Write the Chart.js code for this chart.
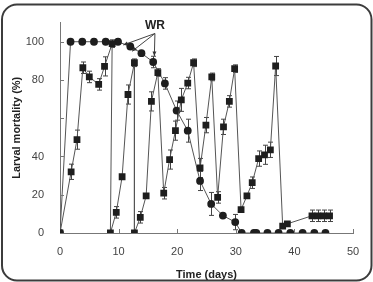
<!DOCTYPE html>
<html>
<head>
<meta charset="utf-8">
<script src="https://cdn.jsdelivr.net/npm/chart.js@4.4.0/dist/chart.umd.min.js"></script>
<style>
  html, body { margin: 0; padding: 0; background: #fff; }
  canvas { display: block; }
</style>
</head>
<body>
<canvas id="chart" width="373" height="282"></canvas>
<script>
// squares series (days, % mortality, +/- error)
const squareDay = [0, 1.9, 2.9, 3.9, 5.0, 6.6, 7.6, 8.9, 8.6, 9.6, 10.6, 11.6, 12.7, 12.7, 13.7, 14.7, 15.6, 16.7, 17.7, 18.7, 19.7, 20.7, 21.8, 22.8, 23.9, 24.9, 25.9, 26.9, 27.9, 28.9, 29.8, 30.9, 31.9, 32.8, 33.9, 34.9, 35.9, 36.8, 38.0, 38.8, 43, 44, 45, 46];
const squareMort = [0, 32, 48.8, 86.4, 81.6, 77.7, 87.1, 99, 0, 10.8, 29.4, 72.4, 89, 0, 8.2, 19.4, 68.8, 83.9, 20.8, 38.4, 53.5, 69.6, 78.4, 89, 34, 56.4, 81.6, 18.6, 55.5, 68.8, 85.9, 12.2, 19.4, 26.3, 38.9, 40.9, 43.5, 87.3, 3.6, 4.8, 9, 9, 9, 9];
const squareErr = [0, 4, 5, 3, 3, 3, 5, 2, 0, 3, 0, 5, 2, 0, 3, 0, 5, 2, 3, 5, 5, 6, 3, 2, 5, 4, 2, 3, 4, 3, 2, 0, 0, 3, 4, 5, 4, 5, 0, 0, 3, 3, 3, 3];

// circles series
const circleDay = [0, 1.8, 3.8, 5.8, 7.8, 9.9, 12, 13.9, 15.9, 17.9, 19.9, 21.8, 23.9, 25.8, 27.8, 29.9, 31, 33.1, 33.5, 35.4, 37.3, 39.3, 41.4, 43.4, 45.3];
const circleMort = [0, 100, 100, 100, 100, 100, 97.5, 94, 89.4, 78.2, 64, 53.5, 27.2, 15.2, 9.1, 5.7, 0, 0, 0, 0, 0, 0, 0, 0, 0];
const circleErr = [0, 0, 0, 0, 0, 0, 0, 0, 3, 3, 5, 6, 5, 6, 0, 4, 0, 0, 0, 0, 0, 0, 0, 0, 0];

const xTickValues = [0, 10, 20, 30, 40, 50];
const yTickLabels = [0, 20, 40, 80, 100];
const yTickMarks = [20, 40, 60, 80, 100];

// WR arrows: label position and arrow tips (data units)
const wrLabel = { x: 16.2, y: 108.6 };
const wrApex = { x: 16.2, y: 104.3 };
const wrTipsX = [10.8, 12.3, 16.1];
const wrTipsY = [98.3, 95, 92.5];

const FONT = "'Liberation Sans', Arial, sans-serif";

function toPoints(xs, ys) {
  return xs.map((x, i) => ({ x: x, y: ys[i] }));
}

const errs = [squareErr, circleErr];

const extras = {
  id: 'extras',
  beforeDraw(chart) {
    const ctx = chart.ctx;
    ctx.save();
    ctx.fillStyle = '#fff';
    ctx.fillRect(0, 0, chart.width, chart.height);
    ctx.beginPath();
    ctx.lineWidth = 2;
    ctx.strokeStyle = '#3c3c3c';
    ctx.roundRect(2, 4.5, 369.5, 276, 15);
    ctx.stroke();
    ctx.restore();
  },
  afterDraw(chart) {
    const { ctx, scales: { x, y } } = chart;
    ctx.save();
    // inward tick marks
    ctx.strokeStyle = '#777';
    ctx.lineWidth = 1;
    ctx.beginPath();
    yTickMarks.forEach(v => {
      const py = Math.round(y.getPixelForValue(v)) + 0.5;
      ctx.moveTo(x.left, py);
      ctx.lineTo(x.left + 4, py);
    });
    xTickValues.slice(1).forEach(v => {
      const px = Math.round(x.getPixelForValue(v)) + 0.5;
      ctx.moveTo(px, y.bottom);
      ctx.lineTo(px, y.bottom - 4);
    });
    ctx.stroke();
    ctx.restore();
  },
  beforeDatasetsDraw(chart) {
    const { ctx, scales: { x, y } } = chart;
    ctx.save();
    ctx.strokeStyle = '#444';
    ctx.lineWidth = 1;
    chart.data.datasets.forEach((ds, i) => {
      const e = errs[i];
      ds.data.forEach((p, j) => {
        if (!e[j]) return;
        const px = Math.round(x.getPixelForValue(p.x)) + 0.5;
        const top = y.getPixelForValue(p.y + e[j]);
        const bot = y.getPixelForValue(p.y - e[j]);
        ctx.beginPath();
        ctx.moveTo(px, top); ctx.lineTo(px, bot);
        ctx.moveTo(px - 2.5, top); ctx.lineTo(px + 2.5, top);
        ctx.moveTo(px - 2.5, bot); ctx.lineTo(px + 2.5, bot);
        ctx.stroke();
      });
    });
    ctx.restore();
  },
  afterDatasetsDraw(chart) {
    const { ctx, scales: { x, y } } = chart;
    ctx.save();
    const ax = x.getPixelForValue(wrApex.x);
    const ay = y.getPixelForValue(wrApex.y);
    ctx.strokeStyle = '#444';
    ctx.fillStyle = '#333';
    ctx.lineWidth = 1;
    wrTipsX.forEach((tx, i) => {
      const px = x.getPixelForValue(tx);
      const py = y.getPixelForValue(wrTipsY[i]);
      ctx.beginPath();
      ctx.moveTo(ax, ay);
      ctx.lineTo(px, py);
      ctx.stroke();
      // small arrowhead
      const ang = Math.atan2(py - ay, px - ax);
      ctx.beginPath();
      ctx.moveTo(px, py);
      ctx.lineTo(px - 5 * Math.cos(ang - 0.4), py - 5 * Math.sin(ang - 0.4));
      ctx.lineTo(px - 5 * Math.cos(ang + 0.4), py - 5 * Math.sin(ang + 0.4));
      ctx.closePath();
      ctx.fill();
    });
    ctx.font = 'bold 12px ' + FONT;
    ctx.fillStyle = '#222';
    ctx.textAlign = 'center';
    ctx.textBaseline = 'middle';
    ctx.fillText('WR', x.getPixelForValue(wrLabel.x), y.getPixelForValue(wrLabel.y));
    ctx.restore();
  }
};

const config = {
  type: 'scatter',
  data: {
    datasets: [{
      label: 'squares',
      data: toPoints(squareDay, squareMort),
      showLine: true,
      borderColor: '#555',
      borderWidth: 1,
      pointStyle: 'rect',
      pointRadius: 4.8,
      pointBackgroundColor: '#1e1e1e',
      pointBorderColor: '#1e1e1e',
      pointBorderWidth: 0,
      tension: 0
    }, {
      label: 'circles',
      data: toPoints(circleDay, circleMort),
      showLine: true,
      borderColor: '#555',
      borderWidth: 1,
      pointStyle: 'circle',
      pointRadius: 3.9,
      pointBackgroundColor: '#1e1e1e',
      pointBorderColor: '#1e1e1e',
      pointBorderWidth: 0,
      tension: 0
    }]
  },
  options: {
    responsive: false,
    animation: false,
    devicePixelRatio: 1,
    layout: { padding: { top: 19, right: 20, bottom: 0, left: 0 } },
    plugins: { legend: { display: false }, tooltip: { enabled: false } },
    scales: {
      x: {
        type: 'linear',
        min: 0, max: 50,
        afterBuildTicks(scale) { scale.ticks = xTickValues.map(v => ({ value: v })); },
        afterFit(scale) { scale.height = 49; },
        grid: { display: false, drawTicks: false },
        border: { display: true, color: '#777', width: 1 },
        ticks: { padding: 12, color: '#444', font: { family: FONT, size: 11 }, maxRotation: 0 },
        title: { display: true, text: 'Time (days)', color: '#222', font: { family: FONT, size: 11, weight: 'bold' }, padding: { top: 4, bottom: 0 } }
      },
      y: {
        type: 'linear',
        min: 0, max: 110,
        afterBuildTicks(scale) { scale.ticks = yTickLabels.map(v => ({ value: v })); },
        afterFit(scale) { scale.width = 60; },
        grid: { display: false, drawTicks: false },
        border: { display: true, color: '#777', width: 1 },
        ticks: { padding: 16, color: '#444', font: { family: FONT, size: 11 } },
        title: { display: true, text: 'Larval mortality (%)', color: '#222', font: { family: FONT, size: 11, weight: 'bold' }, padding: { top: 10, bottom: 0 } }
      }
    }
  },
  plugins: [extras]
};

new Chart(document.getElementById('chart'), config);
</script>
</body>
</html>
